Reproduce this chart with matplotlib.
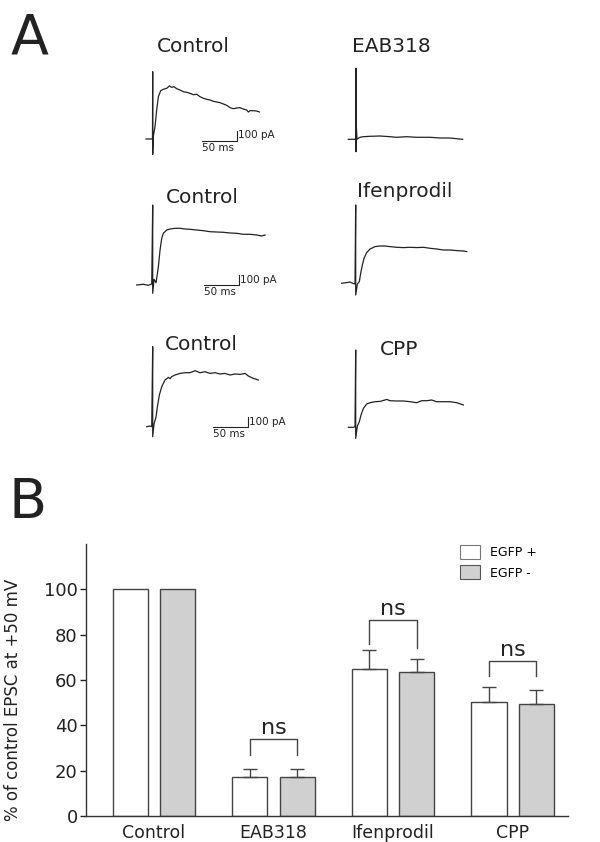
import numpy as np
import matplotlib.pyplot as plt
from matplotlib.patches import Patch

# ---- panel A traces (time in ms from stimulus, current in pA) ----
ctrl1_t = [-9.5, -1, -0.3, 0, 0, 1, 3.3, 5.7, 8.1, 11.4, 15.2, 20, 23.8, 27.1, 30.5, 34.3, 39, 43.8,
           48.6, 53.3, 58.1, 62.9, 67.6, 72.4, 77.1, 81.9, 86.7, 91.4, 96.2, 101, 105.7, 110.5, 115.2,
           120, 124.8, 129.5, 134.3, 136.7, 139, 143.8, 148.6, 152.4]
ctrl1_i = [0, 0, 0, 673, -153, 30, 123, 290, 423, 483, 497, 507, 530, 517, 523, 503, 490, 473,
           467, 457, 443, 447, 423, 407, 397, 390, 377, 370, 363, 350, 337, 313, 303,
           310, 313, 300, 290, 270, 283, 283, 280, 270]

eab_t = [-11, -1.4, -0.3, 0, 0, 0.5, 1.5, 3.3, 5.7, 10.5, 20, 34.3, 48.6, 58.1, 72.4, 86.7,
         105.7, 120, 134.3, 143.8, 152.4]
eab_i = [0, 0, 0, 710, -124, 126, 0, 10, 20, 26, 30, 33, 26, 20, 26, 20, 20, 13, 13, 6, 0]

ctrl2_t = [-22.9, -13.3, -6.2, -1.4, 0, 0, 1.9, 4.8, 8.1, 10.5, 12.9, 15.2, 20, 24.8, 31.9, 39,
           46.2, 53.3, 62.9, 72.4, 81.9, 91.4, 101, 110.5, 120, 129.5, 139, 148.6, 155.7, 160.5]
ctrl2_i = [0, 7, -3, 10, 800, -83, 57, 23, 183, 350, 467, 517, 550, 560, 567, 567,
           560, 557, 550, 543, 533, 530, 527, 520, 517, 507, 507, 500, 490, 500]

ifen_t = [-20, -12.9, -8.1, -3.3, -1, 0, 0, 2.4, 5.2, 7.1, 9.5, 11.9, 15.7, 20.5, 27.6, 34.8,
          41.9, 49, 58.6, 68.1, 77.6, 87.1, 96.7, 106.2, 115.7, 125.2, 134.8, 144.3, 153.8, 158.6]
ifen_i = [0, 7, 13, -3, -7, 783, -117, -7, 17, 100, 183, 250, 307, 343, 367, 373,
          373, 367, 360, 357, 360, 357, 360, 350, 343, 333, 333, 327, 323, 317]

ctrl3_t = [-8.6, -3.8, -1.4, 0, 0, 1.9, 4.8, 6.7, 9.5, 12.9, 17.6, 22.4, 24.8, 27.1, 31.9, 39,
           46.2, 53.3, 60.5, 67.6, 74.8, 81.9, 89, 96.2, 103.3, 110.5, 117.6, 124.8, 132, 136.7,
           143.8, 151]
ctrl3_i = [0, 7, 0, 800, -100, 27, 100, 200, 317, 400, 467, 493, 480, 500, 517, 533,
           540, 540, 560, 540, 550, 533, 540, 527, 533, 517, 527, 523, 533, 507,
           483, 467]

cpp_t = [-10.5, -3.3, -1, 0, 0, 2.4, 5.2, 7.6, 11, 15.7, 20.5, 27.6, 34.8, 41.9, 44.3, 49,
         58.6, 68.1, 77.6, 87.1, 94.3, 101.4, 108.6, 115.7, 125.2, 134.8, 144.3, 153.8]
cpp_i = [-6, -6, 0, 767, -117, 7, 50, 117, 183, 227, 240, 250, 253, 267, 273, 260,
         257, 257, 250, 240, 260, 260, 267, 250, 250, 250, 240, 217]

scale_ms = 50
scale_pa = 100

# ---- panel B ----
groups = ['Control', 'EAB318', 'Ifenprodil', 'CPP']
egfp_pos = [100, 17.4, 64.9, 50.4]
egfp_pos_err = [0, 3.5, 8.4, 6.7]
egfp_neg = [100, 17.4, 63.4, 49.6]
egfp_neg_err = [0, 3.5, 5.8, 6.0]
ns_groups = [1, 2, 3]
ns_top = [33.9, 86.3, 68.3]
ns_left_end = [26.8, 76.0, 61.6]
ns_right_end = [26.8, 74.3, 61.6]

W, H = 600, 842
fig = plt.figure(figsize=(6, 8.42), dpi=100)
fig.patch.set_facecolor('white')
ink = '#222222'

MS_PX = 0.7
PA_PX = 0.1
T_LIM = (-25, 165)
I_LIM = (-200, 850)


def trace_axes(xa, yb):
    left = xa + T_LIM[0] * MS_PX
    bottom = yb - I_LIM[0] * PA_PX
    w = (T_LIM[1] - T_LIM[0]) * MS_PX
    h = (I_LIM[1] - I_LIM[0]) * PA_PX
    ax = fig.add_axes([left / W, 1 - bottom / H, w / W, h / H])
    ax.set_xlim(T_LIM)
    ax.set_ylim(I_LIM)
    ax.axis('off')
    return ax


def scale_bar(ax, t0, y0):
    ax.plot([t0, t0 + scale_ms, t0 + scale_ms], [y0, y0, y0 + scale_pa],
            color=ink, lw=0.8, clip_on=False)
    ax.text(t0 + scale_ms + 1.5, y0 + scale_pa / 2, '%d pA' % scale_pa,
            fontsize=7.5, ha='left', va='center', color=ink)
    ax.text(t0, y0 - 22, '%d ms' % scale_ms, fontsize=7.5, ha='left', va='top', color=ink)


traces = [
    (ctrl1_t, ctrl1_i, 152.7, 139.0),
    (eab_t, eab_i, 356.0, 139.3),
    (ctrl2_t, ctrl2_i, 152.7, 285.0),
    (ifen_t, ifen_i, 355.7, 283.3),
    (ctrl3_t, ctrl3_i, 152.7, 426.7),
    (cpp_t, cpp_i, 355.7, 426.7),
]
bars_at = {0: (70, -15), 2: (73, 0), 4: (86, -5)}
for k, (t, i, xa, yb) in enumerate(traces):
    ax = trace_axes(xa, yb)
    ax.plot(t, i, color=ink, lw=0.9, clip_on=False)
    if k in bars_at:
        scale_bar(ax, *bars_at[k])

titles = [('Control', 193, 52), ('EAB318', 391, 52),
          ('Control', 202, 203), ('Ifenprodil', 405, 197),
          ('Control', 201, 350), ('CPP', 399, 355)]
for s, px, py in titles:
    fig.text(px / W, 1 - py / H, s, fontsize=14.5, ha='center', va='baseline', color=ink)

fig.text(11 / W, 1 - 53 / H, 'A', fontsize=40, ha='left', va='baseline', color=ink)
fig.text(9 / W, 1 - 518 / H, 'B', fontsize=40, ha='left', va='baseline', color=ink)

# ---- bar chart ----
axb = fig.add_axes([86 / W, 1 - 816 / H, (568 - 86) / W, (816 - 544) / H])
x = np.arange(len(groups))
width = 0.293
off = 0.197
edge = '#444444'
axb.bar(x - off, egfp_pos, width, color='white', edgecolor=edge, lw=1)
axb.bar(x + off, egfp_neg, width, color='#d0d0d0', edgecolor=edge, lw=1)
for xs, vals, errs in [(x - off, egfp_pos, egfp_pos_err), (x + off, egfp_neg, egfp_neg_err)]:
    sel = [j for j in range(len(errs)) if errs[j] > 0]
    axb.errorbar(xs[sel], np.array(vals)[sel],
                 yerr=[np.zeros(len(sel)), np.array(errs)[sel]],
                 fmt='none', ecolor=edge, elinewidth=1, capsize=5, capthick=1)

for g, top, le, re in zip(ns_groups, ns_top, ns_left_end, ns_right_end):
    axb.plot([g - off, g - off, g + off, g + off], [le, top, top, re], color=edge, lw=1)
    axb.text(g, top + 2.3, 'ns', fontsize=16, ha='center', va='baseline', color=ink)

axb.set_xlim(-0.569, 3.464)
axb.set_ylim(0, 120)
axb.set_yticks([0, 20, 40, 60, 80, 100])
axb.set_xticks(x)
axb.set_xticklabels(groups)
axb.tick_params(axis='y', length=4, width=1, pad=2, labelsize=13, colors=ink)
axb.tick_params(axis='x', length=0, pad=6, labelsize=12.5, colors=ink)
for side in ['top', 'right']:
    axb.spines[side].set_visible(False)
for side in ['left', 'bottom']:
    axb.spines[side].set_color('#333333')
    axb.spines[side].set_linewidth(1)
axb.set_ylabel('% of control EPSC at +50 mV', fontsize=12, color=ink)
axb.yaxis.set_label_coords(-(86 - 22) / (568 - 86), (816 - 700) / (816 - 544))

handles = [Patch(facecolor='white', edgecolor='#777777', lw=0.8),
           Patch(facecolor='#d0d0d0', edgecolor='#555555', lw=0.8)]
fig.legend(handles, ['EGFP +', 'EGFP -'], loc='upper left',
           bbox_to_anchor=(460 / W, 1 - 545 / H), frameon=False, fontsize=9,
           handlelength=1.6, handleheight=1.35, handletextpad=0.8,
           labelspacing=0.5, borderpad=0, borderaxespad=0)

fig.savefig('out.png', dpi=100, facecolor='white')
